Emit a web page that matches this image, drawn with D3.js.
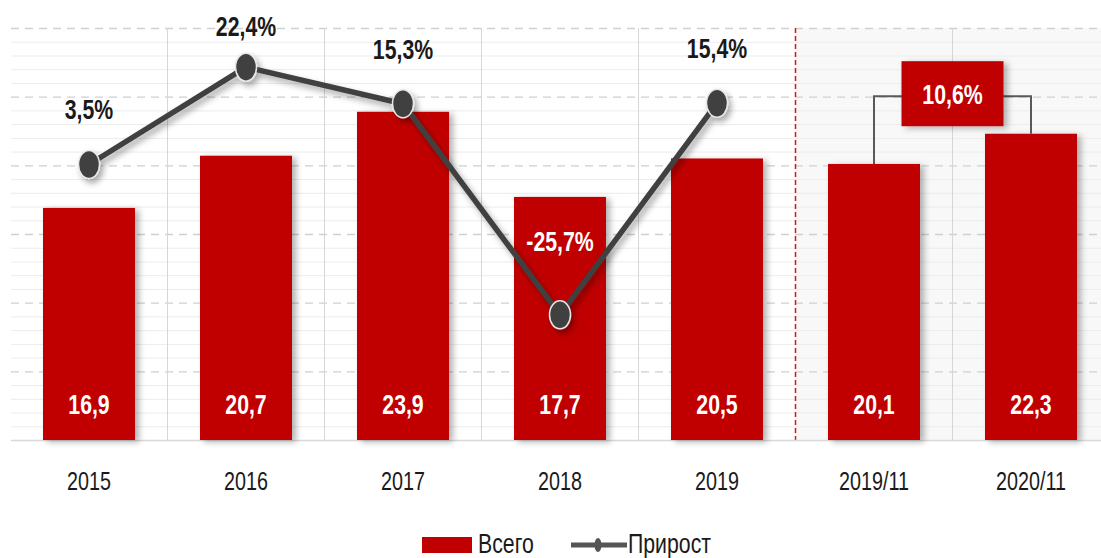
<!doctype html>
<html>
<head>
	<meta charset="utf-8">
	<style>
		body{margin:0;background:#fff;}
		svg{display:block;font-family:"Liberation Sans", Arial, sans-serif;}
	</style>
</head>
<body>
	<div id="chart"></div>
	<script src="https://d3js.org/d3.v7.min.js"></script>
	<script>
		var categories = ['2015', '2016', '2017', '2018', '2019', '2019/11', '2020/11'];
		var totals = [16.9, 20.7, 23.9, 17.7, 20.5, 20.1, 22.3];
		var growthCats = ['2015', '2016', '2017', '2018', '2019'];
		var growth = [3.5, 22.4, 15.3, -25.7, 15.4];
		var periodPair = ['2019/11', '2020/11'];
		var periodGrowth = 10.6;
		var legendNames = ['Всего', 'Прирост'];

		var W = 1101, H = 558;
		var RED = '#c00000', LINE = '#404040';
		var SX = 0.76; // squeeze text horizontally

		var fmt = d3.formatLocale({decimal: ',', thousands: ' ', grouping: [3], currency: ['', ''], minus: '-'}).format('.1f');

		var x = d3.scaleBand().domain(categories).range([10.5, 1109.5]).paddingInner(0.414).paddingOuter(0.207);
		var y = d3.scaleLinear().domain([0, 30]).range([440, 28]);
		var y2 = d3.scaleLinear().domain([-50, 30]).range([440, 28]);

		var svg = d3.select('#chart').append('svg').attr('width', W).attr('height', H);

		var defs = svg.append('defs');
		defs.append('filter').attr('id', 'barShadow').attr('x', '-20%').attr('y', '-20%').attr('width', '150%').attr('height', '150%')
			.append('feDropShadow').attr('dx', 4).attr('dy', 2).attr('stdDeviation', 3)
			.attr('flood-color', '#000').attr('flood-opacity', 0.3);
		defs.append('filter').attr('id', 'lineShadow').attr('x', '-20%').attr('y', '-20%').attr('width', '150%').attr('height', '150%')
			.append('feDropShadow').attr('dx', 3).attr('dy', 4).attr('stdDeviation', 3)
			.attr('flood-color', '#000').attr('flood-opacity', 0.35);

		function label(g, tx, ty, txt, size, weight, color) {
			return g.append('text')
				.attr('transform', 'translate(' + tx + ',' + ty + ') scale(' + SX + ',1)')
				.attr('text-anchor', 'middle')
				.style('font-size', size + 'px')
				.style('font-weight', weight)
				.style('fill', color)
				.text(txt);
		}

		var x0 = 11, x1 = W;
		var split = x(categories[5]) - x.step() * x.paddingInner() / 2;

		// right panel background
		svg.append('rect').attr('x', split).attr('y', y(30)).attr('width', W - split).attr('height', y(0) - y(30)).attr('fill', '#f8f8f8');

		// minor grid
		svg.append('g').selectAll('line').data(d3.range(1, 30).filter(function(d){ return d % 5; }))
			.enter().append('line')
			.attr('x1', x0).attr('x2', x1)
			.attr('y1', function(d){ return y(d) + 0.5; }).attr('y2', function(d){ return y(d) + 0.5; })
			.attr('stroke', '#ececec').attr('stroke-width', 1);

		// major dashed grid
		svg.append('g').selectAll('line').data(d3.range(5, 31, 5))
			.enter().append('line')
			.attr('x1', x0).attr('x2', x1)
			.attr('y1', function(d){ return y(d) + 0.5; }).attr('y2', function(d){ return y(d) + 0.5; })
			.attr('stroke', '#d0d0d0').attr('stroke-width', 1.3).attr('stroke-dasharray', '8,6');

		// vertical separators
		svg.append('g').selectAll('line').data(categories.slice(1))
			.enter().append('line')
			.attr('x1', function(d){ return x(d) - x.step() * x.paddingInner() / 2; })
			.attr('x2', function(d){ return x(d) - x.step() * x.paddingInner() / 2; })
			.attr('y1', y(30)).attr('y2', y(0))
			.attr('stroke', function(d){ return d === categories[5] ? '#e01010' : '#d6d6d6'; })
			.attr('stroke-width', function(d){ return d === categories[5] ? 1.5 : 1; })
			.attr('stroke-dasharray', function(d){ return d === categories[5] ? '5,3' : null; });

		// baseline
		svg.append('line').attr('x1', x0).attr('x2', x1).attr('y1', y(0) + 0.5).attr('y2', y(0) + 0.5)
			.attr('stroke', '#d9d9d9').attr('stroke-width', 1.5);

		// bars
		svg.append('g').attr('filter', 'url(#barShadow)').selectAll('rect').data(totals)
			.enter().append('rect')
			.attr('x', function(d, i){ return x(categories[i]); })
			.attr('y', function(d){ return y(d); })
			.attr('width', x.bandwidth())
			.attr('height', function(d){ return y(0) - y(d); })
			.attr('fill', RED);

		var labels = svg.append('g');
		totals.forEach(function(d, i){
			label(labels, x(categories[i]) + x.bandwidth() / 2, y(0) - 26, fmt(d), 28, 'bold', '#fff');
		});

		// category axis labels
		categories.forEach(function(c){
			label(labels, x(c) + x.bandwidth() / 2, 490, c, 26, 'normal', '#1a1a1a');
		});

		// bracket for period growth
		var bx1 = x(periodPair[0]) + x.bandwidth() / 2;
		var bx2 = x(periodPair[1]) + x.bandwidth() / 2;
		var by = y2(15.4) - 7;
		var bracket = svg.append('g');
		bracket.append('path')
			.attr('d', 'M' + bx1 + ',' + y(totals[5]) + 'V' + by + 'H' + bx2 + 'V' + y(totals[6]))
			.attr('fill', 'none').attr('stroke', '#595959').attr('stroke-width', 2);
		var bxm = (x(periodPair[0]) + x.bandwidth() + x(periodPair[1])) / 2;
		bracket.append('rect').attr('x', bxm - 51).attr('y', by - 35).attr('width', 102).attr('height', 65)
			.attr('fill', RED).attr('filter', 'url(#barShadow)');
		label(bracket, bxm, by + 8, fmt(periodGrowth) + '%', 28, 'bold', '#fff');

		// growth line
		var line = d3.line()
			.x(function(d, i){ return x(growthCats[i]) + x.bandwidth() / 2; })
			.y(function(d){ return y2(d); });
		var lg = svg.append('g').attr('filter', 'url(#lineShadow)');
		lg.append('path').datum(growth).attr('d', line)
			.attr('fill', 'none').attr('stroke', LINE).attr('stroke-width', 5.5).attr('stroke-linejoin', 'round');
		lg.selectAll('ellipse').data(growth).enter().append('ellipse')
			.attr('cx', function(d, i){ return x(growthCats[i]) + x.bandwidth() / 2; })
			.attr('cy', function(d){ return y2(d); })
			.attr('rx', 10.5).attr('ry', 14)
			.attr('fill', LINE).attr('stroke', '#e8e8e8').attr('stroke-width', 1.5);

		growth.forEach(function(d, i){
			var py = y2(d);
			var ty = d < 0 ? py - 64 : Math.max(py - 45, 36);
			label(labels, x(growthCats[i]) + x.bandwidth() / 2, ty, fmt(d) + '%', 28, 'bold', d < 0 ? '#fff' : '#1a1a1a');
		});

		// legend
		var leg = svg.append('g');
		leg.append('rect').attr('x', 422).attr('y', 537).attr('width', 50).attr('height', 16).attr('fill', RED);
		leg.append('text').attr('transform', 'translate(478,553) scale(' + SX + ',1)')
			.style('font-size', '28px').style('fill', '#1a1a1a').text(legendNames[0]);
		leg.append('line').attr('x1', 571).attr('x2', 627).attr('y1', 545).attr('y2', 545)
			.attr('stroke', '#555').attr('stroke-width', 5);
		leg.append('ellipse').attr('cx', 598).attr('cy', 545).attr('rx', 3.5).attr('ry', 7).attr('fill', '#555');
		leg.append('text').attr('transform', 'translate(628,553) scale(' + SX + ',1)')
			.style('font-size', '28px').style('fill', '#1a1a1a').text(legendNames[1]);
	</script>
</body>
</html>
